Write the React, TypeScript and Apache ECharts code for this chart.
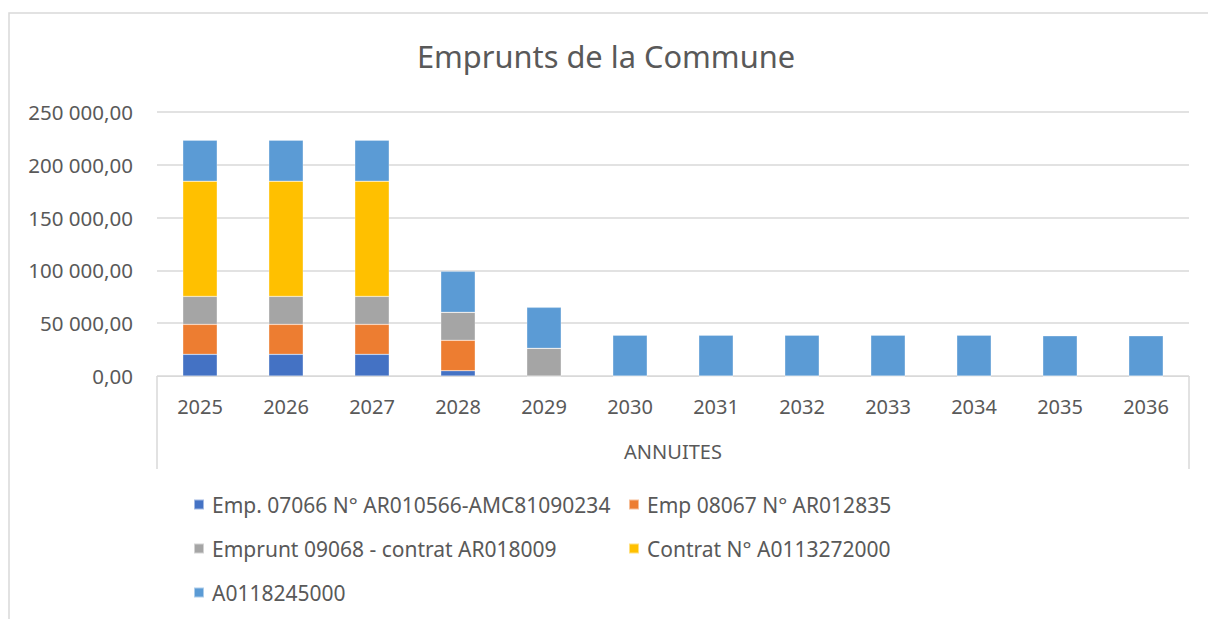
import React, { useEffect, useRef } from "react";
import * as echarts from "echarts";

const categories = ["2025", "2026", "2027", "2028", "2029", "2030", "2031", "2032", "2033", "2034", "2035", "2036"];
const seriesNames = [
  "Emp. 07066 N° AR010566-AMC81090234",
  "Emp 08067 N° AR012835",
  "Emprunt 09068 - contrat AR018009",
  "Contrat N° A0113272000",
  "A0118245000",
];
const emp07066 = [20500, 20500, 20500, 5000, 0, 0, 0, 0, 0, 0, 0, 0];
const emp08067 = [28400, 28400, 28400, 28800, 0, 0, 0, 0, 0, 0, 0, 0];
const emp09068 = [26500, 26500, 26500, 26500, 26200, 0, 0, 0, 0, 0, 0, 0];
const contrat0113 = [109100, 109100, 109100, 0, 0, 0, 0, 0, 0, 0, 0, 0];
const a0118 = [38800, 38800, 38800, 38800, 38800, 38600, 38600, 38600, 38600, 38600, 38000, 38000];
const colors = ["#4472C4", "#ED7D31", "#A5A5A5", "#FFC000", "#5B9BD5"];
const titleText = "Emprunts de la Commune";
const axisTitle = "ANNUITES";

const FONT = "'Noto Sans', sans-serif";
const TXT = "#595959";

function fmt(v: number): string {
  const s = Math.round(v).toString().replace(/\B(?=(\d{3})+(?!\d))/g, " ");
  return s + ",00";
}

export default function App() {
  const ref = useRef<HTMLDivElement>(null);
  useEffect(() => {
    if (!ref.current) return;
    const chart = echarts.init(ref.current, undefined, { renderer: "svg" });
    const data = [emp07066, emp08067, emp09068, contrat0113, a0118];
    const legendStyle = { color: TXT, fontSize: 21, fontFamily: FONT, padding: [0, 0, 0, 3] };
    chart.setOption({
      animation: false,
      backgroundColor: "#ffffff",
      color: colors,
      title: {
        text: titleText,
        left: 601,
        textAlign: "center",
        top: 35,
        textStyle: { color: TXT, fontSize: 30.8, fontWeight: "normal", fontFamily: FONT },
      },
      grid: { left: 157, right: 19, top: 112, bottom: 243, containLabel: false },
      legend: [
        {
          data: [seriesNames[0], seriesNames[2], seriesNames[4]],
          orient: "vertical",
          left: 188,
          top: 489,
          itemWidth: 10,
          itemHeight: 10,
          itemGap: 23,
          icon: "rect",
          textStyle: legendStyle,
        },
        {
          data: [seriesNames[1], seriesNames[3]],
          orient: "vertical",
          left: 623,
          top: 489,
          itemWidth: 10,
          itemHeight: 10,
          itemGap: 23,
          icon: "rect",
          textStyle: legendStyle,
        },
      ],
      xAxis: {
        type: "category",
        data: categories,
        axisLine: { lineStyle: { color: "#d9d9d9", width: 1 } },
        axisTick: { show: false },
        axisLabel: { color: TXT, fontSize: 20, fontFamily: FONT, margin: 20 },
        name: axisTitle,
        nameLocation: "middle",
        nameGap: 65,
        nameTextStyle: { color: TXT, fontSize: 20, fontFamily: FONT },
      },
      yAxis: {
        type: "value",
        min: 0,
        max: 250000,
        interval: 50000,
        axisLine: { show: false },
        axisTick: { show: false },
        splitLine: { lineStyle: { color: "#d9d9d9", width: 1.5 } },
        axisLabel: { color: TXT, fontSize: 20.5, fontFamily: FONT, margin: 24, formatter: (v: number) => fmt(v) },
      },
      series: seriesNames.map((name, i) => ({
        name,
        type: "bar",
        stack: "total",
        data: data[i],
        barWidth: "40%",
        itemStyle: { color: colors[i], borderColor: "rgba(255,255,255,0.5)", borderWidth: 0.5 },
      })),
      graphic: [
        {
          type: "rect",
          shape: { x: 9, y: 13, width: 1220, height: 640 },
          style: { fill: "none", stroke: "#d9d9d9", lineWidth: 1.5 },
          silent: true,
          z: -1,
        },
        {
          type: "line",
          shape: { x1: 157, y1: 376, x2: 157, y2: 469 },
          style: { stroke: "#d9d9d9", lineWidth: 1.5 },
          silent: true,
        },
        {
          type: "line",
          shape: { x1: 1189, y1: 376, x2: 1189, y2: 469 },
          style: { stroke: "#d9d9d9", lineWidth: 1.5 },
          silent: true,
        },
      ],
    });
    return () => chart.dispose();
  }, []);
  return (
    <div
      ref={ref}
      style={{ position: "absolute", left: 0, top: 0, width: 1208, height: 619 }}
    />
  );
}
